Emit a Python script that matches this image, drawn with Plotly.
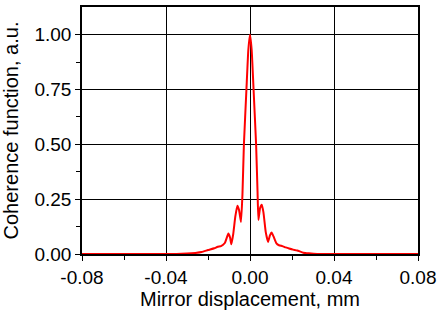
import plotly.graph_objects as go

# Mirror displacement (mm) and normalized coherence function (a.u.)
displacement_mm = [-0.08, -0.035, -0.030, -0.026, -0.023, -0.020, -0.017, -0.0154, -0.0138,
                   -0.012, -0.0103, -0.0095, -0.0089, -0.008, -0.007, -0.0060, -0.0052,
                   -0.0043, -0.0036, -0.0029, -0.0017, -0.0008, 0.0, 0.0008, 0.0017,
                   0.0029, 0.0036, 0.0040, 0.0048, 0.0056, 0.0064, 0.0075, 0.0086,
                   0.0095, 0.0103, 0.0112, 0.0125, 0.0138, 0.0154, 0.0170, 0.0186,
                   0.0205, 0.0225, 0.0254, 0.028, 0.032, 0.08]
coherence = [0.0, 0.0, 0.002, 0.005, 0.009, 0.018, 0.026, 0.033, 0.036,
             0.05, 0.093, 0.075, 0.045, 0.09, 0.17, 0.22, 0.20,
             0.146, 0.27, 0.5, 0.75, 0.93, 1.0, 0.93, 0.75,
             0.5, 0.28, 0.155, 0.21, 0.225, 0.19, 0.10, 0.055,
             0.085, 0.098, 0.08, 0.05, 0.04, 0.036, 0.03, 0.025,
             0.02, 0.016, 0.006, 0.003, 0.0, 0.0]

x_ticks = [-0.08, -0.04, 0.0, 0.04, 0.08]
x_tick_labels = ["-0.08", "-0.04", "0.00", "0.04", "0.08"]
y_ticks = [0.0, 0.25, 0.5, 0.75, 1.0]
y_tick_labels = ["0.00", "0.25", "0.50", "0.75", "1.00"]

fig = go.Figure()
fig.add_trace(go.Scatter(x=displacement_mm, y=coherence, mode="lines",
                         line=dict(color="#ff0000", width=2, shape="spline", smoothing=0.4),
                         showlegend=False))

font = dict(family="Liberation Sans, Arial, sans-serif", color="black")
fig.update_layout(
    width=441, height=311,
    margin=dict(l=82, r=23, t=5, b=56),
    paper_bgcolor="white", plot_bgcolor="white",
    font=dict(**font, size=19),
)
fig.update_xaxes(
    range=[-0.08, 0.08], tickvals=x_ticks, ticktext=x_tick_labels,
    showline=True, linecolor="black", linewidth=1.5, mirror=True,
    showgrid=True, gridcolor="black", gridwidth=1,
    ticks="outside", ticklen=5, tickwidth=1, tickcolor="black",
    minor=dict(tickvals=[-0.06, -0.02, 0.02, 0.06], ticks="outside", ticklen=4,
               tickcolor="black", showgrid=False),
    zeroline=False,
    title=dict(text="Mirror displacement, mm", font=dict(size=20), standoff=4),
    tickfont=dict(size=19),
)
fig.update_yaxes(
    range=[0, 1.126], tickvals=y_ticks, ticktext=y_tick_labels,
    showline=True, linecolor="black", linewidth=1.5, mirror=True,
    showgrid=True, gridcolor="black", gridwidth=1,
    ticks="outside", ticklen=5, tickwidth=1, tickcolor="black",
    minor=dict(tickvals=[0.125, 0.375, 0.625, 0.875], ticks="outside", ticklen=4,
               tickcolor="black", showgrid=False),
    zeroline=False,
    title=dict(text="Coherence function, a.u.", font=dict(size=20), standoff=10),
    tickfont=dict(size=19),
)
fig.write_html("out.html")
